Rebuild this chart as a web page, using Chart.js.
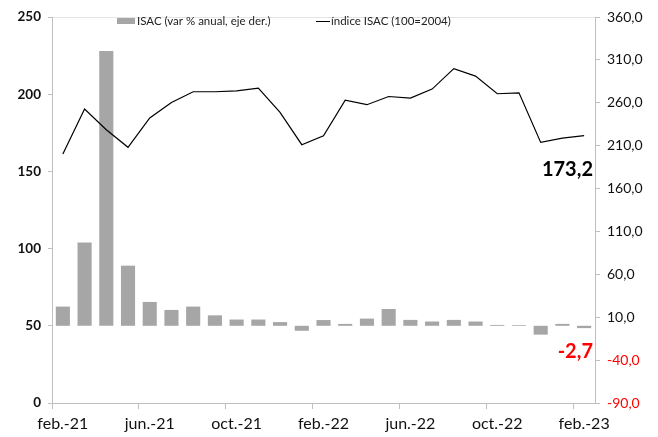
<!DOCTYPE html>
<html lang="es">
<head>
<meta charset="utf-8">
<title>ISAC</title>
<script src="https://cdn.jsdelivr.net/npm/chart.js@4.4.0/dist/chart.umd.min.js"></script>
<style>
  html, body { margin: 0; padding: 0; background: #fff; }
  #wrap { width: 658px; height: 437px; }
</style>
</head>
<body>
<div id="wrap"><canvas id="chartIsac" width="658" height="437"></canvas></div>
<script>
// Meses (feb.-21 a feb.-23)
const MONTHS = [
  'feb.-21','mar.-21','abr.-21','may.-21','jun.-21','jul.-21','ago.-21','sep.-21',
  'oct.-21','nov.-21','dic.-21','ene.-22','feb.-22','mar.-22','abr.-22','may.-22',
  'jun.-22','jul.-22','ago.-22','sep.-22','oct.-22','nov.-22','dic.-22','ene.-23','feb.-23'
];

// ISAC var % anual (eje derecho)
const ISAC_VAR = [
  22.4, 97.2, 320.5, 70.1, 27.8, 18.5, 22.4, 12.2, 7.3, 7.3, 4.3, -5.8, 6.7,
  2.2, 8.4, 19.6, 6.9, 5.0, 6.9, 5.0, 1.0, 0.8, -10.3, 2.2, -2.7
];

// Índice ISAC 100=2004 (eje izquierdo)
const ISAC_IDX = [
  161.3, 190.4, 177.0, 165.6, 184.6, 194.6, 201.6, 201.6, 202.2, 203.9, 188.2, 167.3, 173.1,
  196.2, 193.2, 198.5, 197.5, 203.3, 216.6, 211.7, 200.3, 200.9, 168.8, 171.6, 173.2
];

const LEFT_MIN = 0, LEFT_MAX = 250, LEFT_STEP = 50;
const RIGHT_MIN = -90, RIGHT_MAX = 360, RIGHT_STEP = 50;

const FONT = 'Lato, "Open Sans", sans-serif';
const AXIS_GRAY = '#bfbfbf';
const BAR_GRAY = '#a6a6a6';

const fmt1 = v => v.toFixed(1).replace('.', ',');

// leyenda dentro del área del gráfico + rótulos del último dato
const overlay = {
  id: 'overlay',
  afterDraw(chart) {
    const { ctx, chartArea, scales } = chart;
    const last = MONTHS.length - 1;
    ctx.save();

    // leyenda
    ctx.font = '11.5px ' + FONT;
    ctx.textBaseline = 'middle';
    const ly = chartArea.top + 4;
    let lx = chartArea.left + 65;
    ctx.fillStyle = BAR_GRAY;
    ctx.fillRect(lx, ly - 3, 18, 6);
    ctx.fillStyle = '#222';
    ctx.textAlign = 'left';
    ctx.fillText(chart.data.datasets[1].label, lx + 20, ly);
    lx = chartArea.left + 264;
    ctx.strokeStyle = '#000';
    ctx.lineWidth = 1;
    ctx.beginPath();
    ctx.moveTo(lx, ly + 0.5);
    ctx.lineTo(lx + 14, ly + 0.5);
    ctx.stroke();
    ctx.fillText(chart.data.datasets[0].label, lx + 15, ly);

    // último valor del índice
    ctx.font = 'bold 20px ' + FONT;
    ctx.textAlign = 'right';
    ctx.fillStyle = '#000';
    const yIdx = scales.y.getPixelForValue(ISAC_IDX[last]);
    ctx.fillText(fmt1(ISAC_IDX[last]), chartArea.right - 2, yIdx + 34);

    // última variación
    ctx.fillStyle = '#ff0000';
    const yVar = scales.y1.getPixelForValue(ISAC_VAR[last]);
    ctx.fillText(fmt1(ISAC_VAR[last]), chartArea.right - 2, yVar + 23);
    ctx.restore();
  }
};

new Chart(document.getElementById('chartIsac'), {
  data: {
    labels: MONTHS,
    datasets: [
      {
        type: 'line',
        label: 'índice ISAC (100=2004)',
        data: ISAC_IDX,
        yAxisID: 'y',
        borderColor: '#000',
        borderWidth: 1.2,
        pointRadius: 0,
        tension: 0,
        order: 0
      },
      {
        type: 'bar',
        label: 'ISAC (var % anual, eje der.)',
        data: ISAC_VAR,
        yAxisID: 'y1',
        backgroundColor: BAR_GRAY,
        categoryPercentage: 1,
        barPercentage: 0.65,
        order: 1
      }
    ]
  },
  options: {
    responsive: false,
    animation: false,
    layout: { padding: { top: 17, left: 0, right: 0, bottom: 0 } },
    plugins: {
      legend: { display: false },
      tooltip: { enabled: false }
    },
    scales: {
      x: {
        type: 'category',
        offset: true,
        border: { color: AXIS_GRAY },
        grid: {
          offset: true,
          drawOnChartArea: false,
          tickLength: 6,
          tickColor: ctx => (ctx.index % 4 === 0 ? AXIS_GRAY : 'rgba(0,0,0,0)')
        },
        ticks: {
          autoSkip: false,
          maxRotation: 0,
          padding: 5,
          color: '#111',
          font: { family: FONT, size: 16 },
          callback: (v, i) => (i % 4 === 0 ? MONTHS[i] : '')
        },
        afterFit: s => { s.height = 34; }
      },
      y: {
        position: 'left',
        min: LEFT_MIN,
        max: LEFT_MAX,
        border: { color: AXIS_GRAY },
        grid: {
          drawOnChartArea: true,
          color: ctx => (ctx.tick && ctx.tick.value === LEFT_MAX ? '#e4e4e4' : 'rgba(0,0,0,0)'),
          tickColor: AXIS_GRAY,
          tickLength: 4
        },
        ticks: {
          stepSize: LEFT_STEP,
          padding: 7,
          color: '#111',
          font: { family: FONT, size: 13.5, weight: 'bold' }
        },
        afterFit: s => { s.width = 52; }
      },
      y1: {
        position: 'right',
        min: RIGHT_MIN,
        max: RIGHT_MAX,
        border: { color: AXIS_GRAY },
        grid: { drawOnChartArea: false, tickColor: AXIS_GRAY, tickLength: 5 },
        ticks: {
          stepSize: RIGHT_STEP,
          padding: 7,
          font: { family: FONT, size: 14 },
          color: ctx => (ctx.tick && ctx.tick.value < 0 ? '#ff0000' : '#111'),
          callback: v => fmt1(v)
        },
        afterFit: s => { s.width = 63; }
      }
    }
  },
  plugins: [overlay]
});
</script>
</body>
</html>
